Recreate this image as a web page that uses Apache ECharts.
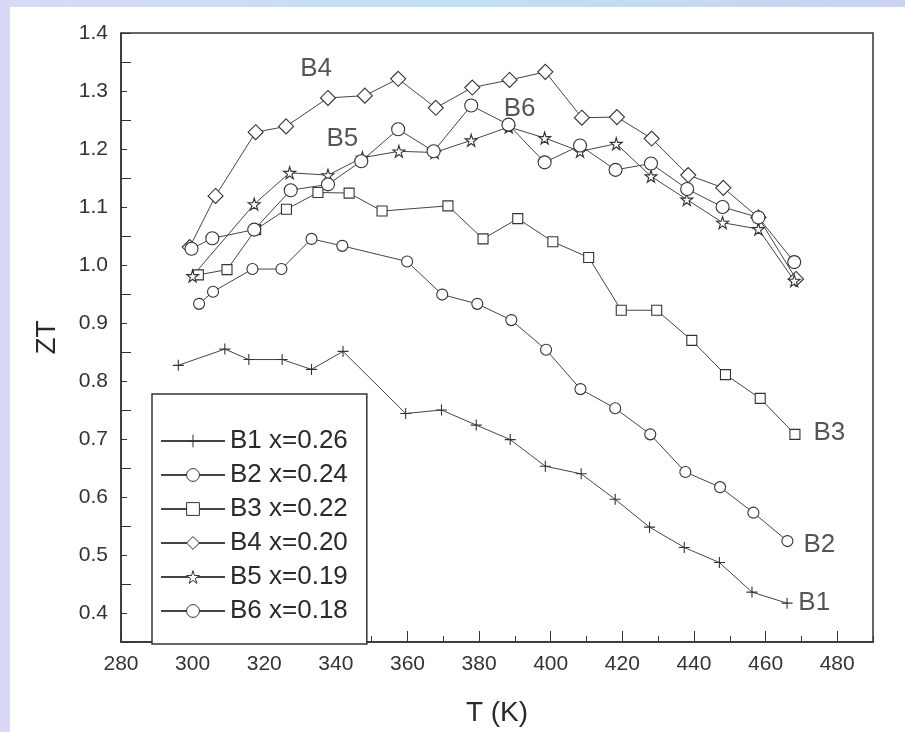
<!DOCTYPE html>
<html>
<head>
    <title>ZT vs T</title>
    <meta charset="UTF-8">
    <script src="https://cdn.jsdelivr.net/npm/echarts@6.0.0/dist/echarts.min.js"></script>
    <style type="text/css">
      body{
        margin: 0;
        padding: 0;
        width: 905px;
        height: 732px;
        background: linear-gradient(to right, #d9d9f7 0%, #c0e0f2 50%, #cad2f2 100%);
      }
      #sheet{
        position: absolute;
        left: 10px;
        top: 7px;
        width: 895px;
        height: 725px;
        background: #fff;
      }
      #main{
        position: absolute;
        left: 0;
        top: 0;
        width: 905px;
        height: 732px;
      }
    </style>
</head>
<body>
<div id="sheet"></div>
<div id="main"></div>
<script type="text/javascript">

    var names = ['B1 x=0.26', 'B2 x=0.24', 'B3 x=0.22', 'B4 x=0.20', 'B5 x=0.19', 'B6 x=0.18'];

    var tB1 = [296.0, 309.0, 315.7, 325.0, 333.2, 342.0, 359.5, 369.5, 379.2, 388.7, 398.5, 408.5, 418.0, 427.6, 437.3, 447.1, 456.2, 466.0];
    var ztB1 = [0.827, 0.855, 0.837, 0.837, 0.820, 0.851, 0.744, 0.750, 0.724, 0.699, 0.653, 0.640, 0.596, 0.548, 0.513, 0.487, 0.436, 0.417];

    var tB2 = [301.8, 305.7, 316.7, 324.8, 333.2, 341.8, 359.9, 369.7, 379.5, 389.0, 398.7, 408.3, 418.0, 427.8, 437.6, 447.3, 456.6, 466.1];
    var ztB2 = [0.933, 0.954, 0.993, 0.993, 1.045, 1.033, 1.006, 0.949, 0.933, 0.905, 0.854, 0.786, 0.753, 0.708, 0.643, 0.617, 0.573, 0.524];

    var tB3 = [301.6, 309.6, 317.6, 326.2, 335.0, 343.7, 352.9, 371.3, 381.1, 390.8, 400.6, 410.6, 419.7, 429.6, 439.4, 448.8, 458.5, 468.2];
    var ztB3 = [0.983, 0.992, 1.061, 1.096, 1.125, 1.124, 1.093, 1.102, 1.045, 1.080, 1.040, 1.013, 0.922, 0.922, 0.870, 0.811, 0.770, 0.708];

    var tB4 = [299.2, 306.4, 317.6, 326.1, 337.8, 348.1, 357.4, 367.9, 378.1, 388.5, 398.5, 408.7, 418.5, 428.2, 438.4, 448.2, 458.0, 468.5];
    var ztB4 = [1.031, 1.119, 1.229, 1.239, 1.288, 1.292, 1.321, 1.271, 1.306, 1.319, 1.333, 1.254, 1.255, 1.218, 1.155, 1.133, 1.082, 0.976];

    var tB5 = [300.0, 317.2, 327.1, 337.8, 347.4, 357.6, 367.6, 377.8, 388.3, 398.3, 408.2, 418.3, 428.0, 438.0, 448.0, 458.0, 468.0];
    var ztB5 = [0.981, 1.105, 1.159, 1.155, 1.185, 1.196, 1.194, 1.215, 1.238, 1.219, 1.196, 1.209, 1.153, 1.113, 1.073, 1.062, 0.973];

    var tB6 = [299.7, 305.5, 317.2, 327.4, 337.8, 347.1, 357.4, 367.3, 377.8, 388.2, 398.3, 408.2, 418.1, 428.0, 438.1, 448.0, 458.0, 468.0];
    var ztB6 = [1.028, 1.046, 1.061, 1.129, 1.139, 1.179, 1.234, 1.196, 1.275, 1.242, 1.177, 1.206, 1.164, 1.175, 1.131, 1.100, 1.082, 1.005];

    // curve labels written on the plot
    var tagText = ['B1', 'B2', 'B3', 'B4', 'B5', 'B6'];
    var tagT = [473.6, 475.0, 477.8, 334.5, 341.8, 391.3];
    var tagZT = [0.417, 0.518, 0.710, 1.339, 1.218, 1.269];

    var xTickLabels = [280, 300, 320, 340, 360, 380, 400, 420, 440, 460, 480];

    var plusPath = 'path://M5,0L5,10M0,5L10,5';
    var starPath = 'path://M5,0L6.1,3.5L9.8,3.5L6.8,5.7L7.9,9.1L5,7L2.1,9.1L3.2,5.7L0.2,3.5L3.9,3.5Z';
    var symbols = [plusPath, 'circle', 'rect', 'diamond', starPath, 'circle'];
    var sizes = [11, 11, 10, 15, 12, 13];

    function pairs(t, zt){
        var out = [];
        for (var i = 0; i < t.length; i++) out.push([t[i], zt[i]]);
        return out;
    }

    var allT = [tB1, tB2, tB3, tB4, tB5, tB6];
    var allZT = [ztB1, ztB2, ztB3, ztB4, ztB5, ztB6];
    var font = '"Liberation Sans", Arial, sans-serif';

    var series = [];
    for (var k = 0; k < names.length; k++) {
        series.push({
            name: names[k],
            type: 'line',
            data: pairs(allT[k], allZT[k]),
            symbol: symbols[k],
            symbolSize: sizes[k],
            showAllSymbol: true,
            lineStyle: {color: '#444', width: 1},
            itemStyle: {color: '#fff', borderColor: '#333', borderWidth: 1.1},
            z: 3
        });
    }
    var tagData = [];
    for (var j = 0; j < tagText.length; j++) tagData.push([tagT[j], tagZT[j], tagText[j]]);
    series.push({
        name: 'tags',
        type: 'scatter',
        symbolSize: 0,
        data: tagData,
        silent: true,
        label: {
            show: true,
            position: 'inside',
            formatter: function (p) { return p.value[2]; },
            fontFamily: font,
            fontSize: 26,
            color: '#2a2a2a'
        },
        z: 4
    });

    var chart = echarts.init(document.getElementById('main'));
    var option = {
        animation: false,
        backgroundColor: 'transparent',
        textStyle: {fontFamily: font},
        grid: {
            left: 121, top: 33, width: 752, height: 613,
            show: true, borderColor: '#333', borderWidth: 1.5
        },
        legend: {
            data: names,
            orient: 'vertical',
            left: 152,
            top: 394,
            itemWidth: 64,
            itemHeight: 16,
            itemGap: 8,
            padding: [34, 19, 20, 8],
            backgroundColor: '#fff',
            borderColor: '#333',
            borderWidth: 1.5,
            itemStyle: {color: '#fff', borderColor: '#333', borderWidth: 1},
            textStyle: {fontSize: 26, color: '#2a2a2a', fontFamily: font}
        },
        xAxis: [{
            type: 'value',
            min: 280, max: 490, interval: 20,
            name: 'T (K)',
            nameLocation: 'middle',
            nameGap: 57,
            nameTextStyle: {fontSize: 28, color: '#2a2a2a'},
            axisLine: {show: true, lineStyle: {color: '#333', width: 1.5}},
            axisTick: {show: true, inside: true, length: 11, lineStyle: {color: '#333'}},
            axisLabel: {
                margin: 12, fontSize: 21, color: '#333', showMaxLabel: false,
                formatter: function (v) { return xTickLabels.indexOf(v) >= 0 ? String(v) : ''; }
            },
            splitLine: {show: false}
        }, {
            type: 'value',
            position: 'bottom',
            min: 280, max: 490, interval: 10,
            axisLine: {show: false},
            axisTick: {show: true, inside: true, length: 6, lineStyle: {color: '#333'}},
            axisLabel: {show: false},
            splitLine: {show: false}
        }],
        yAxis: [{
            type: 'value',
            min: 0.35, max: 1.4, interval: 0.05,
            name: 'ZT',
            nameLocation: 'middle',
            nameRotate: 90,
            nameGap: 60,
            nameTextStyle: {fontSize: 28, color: '#2a2a2a'},
            axisLine: {show: true, lineStyle: {color: '#333', width: 1.5}},
            axisTick: {show: true, inside: true, length: 6, lineStyle: {color: '#333'}},
            axisLabel: {
                margin: 13, fontSize: 21, color: '#333',
                formatter: function (v) {
                    var r = Math.round(v * 10);
                    return Math.abs(v * 10 - r) < 1e-6 ? (r / 10).toFixed(1) : '';
                }
            },
            splitLine: {show: false}
        }, {
            type: 'value',
            position: 'left',
            min: 0.35, max: 1.4, interval: 0.1,
            axisLine: {show: false},
            axisTick: {show: true, inside: true, length: 10, lineStyle: {color: '#333'}},
            axisLabel: {show: false},
            splitLine: {show: false}
        }],
        series: series
    };
    chart.setOption(option);

</script>
</body>
</html>
